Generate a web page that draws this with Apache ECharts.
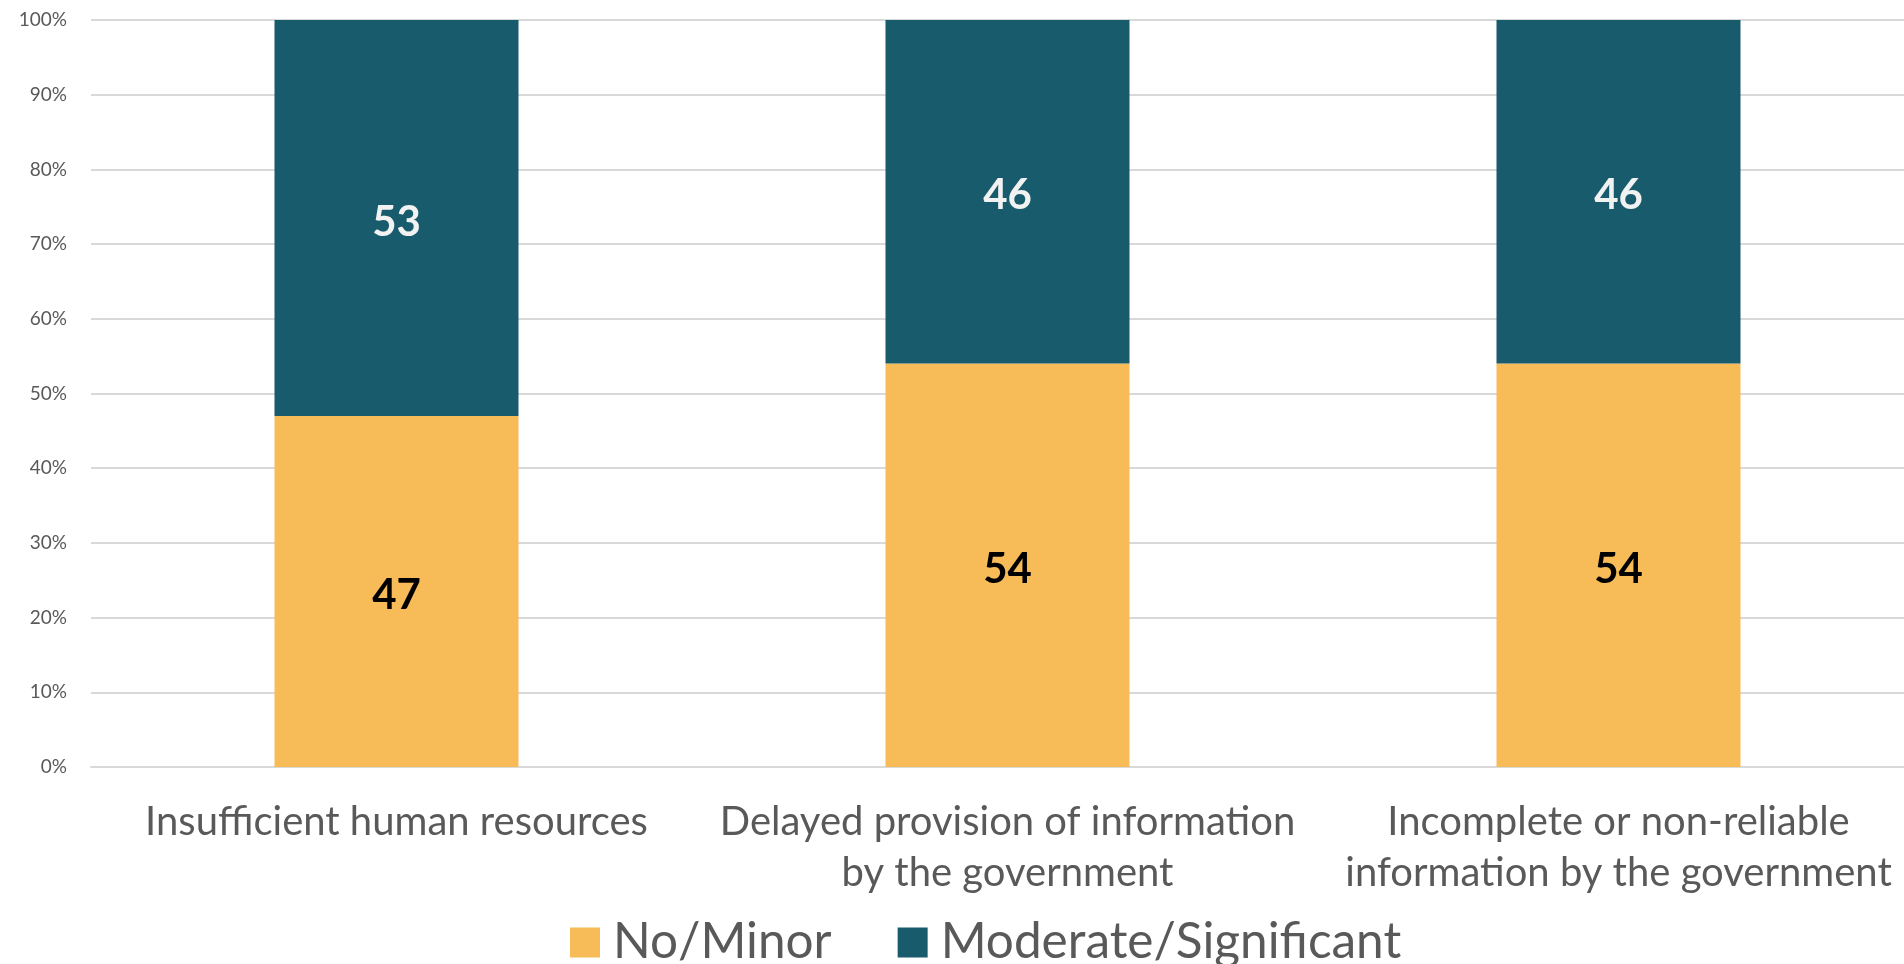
<!DOCTYPE html>
<html>
<head>
<meta charset="utf-8">
<script src="https://cdn.jsdelivr.net/npm/echarts@6/dist/echarts.min.js"></script>
<style>
  html, body { margin: 0; padding: 0; background: #fff; }
  #chart { width: 1904px; height: 964px; }
</style>
</head>
<body>
<div id="chart"></div>
<script>
const categories = [
  "Insufficient human resources",
  "Delayed provision of information\nby the government",
  "Incomplete or non-reliable\ninformation by the government"
];
const noMinor = [47, 54, 54];
const moderateSignificant = [53, 46, 46];
const yTicks = [0, 10, 20, 30, 40, 50, 60, 70, 80, 90, 100];

const chart = echarts.init(document.getElementById("chart"));
const font = "Lato, 'Open Sans', sans-serif";

const option = {
  animation: false,
  textStyle: { fontFamily: font },
  // plot area runs a little past the right edge, as in the original
  grid: {
    left: 91,
    top: 20,
    bottom: 197,
    width: 1833,
    containLabel: false,
    outerBoundsMode: "none",
  },
  legend: {
    data: ["No/Minor", "Moderate/Significant"],
    left: 565,
    top: 911,
    icon: "rect",
    itemWidth: 30,
    itemHeight: 30,
    itemGap: 66,
    textStyle: {
      fontFamily: font,
      fontSize: 49.5,
      color: "#595959",
      lineHeight: 53,
      padding: [0, 0, 0, 8],
    },
  },
  xAxis: {
    type: "category",
    data: categories,
    axisTick: { show: false },
    axisLine: { lineStyle: { color: "#d9d9d9", width: 2 } },
    axisLabel: {
      interval: 0,
      margin: 30,
      fontFamily: font,
      fontSize: 40,
      lineHeight: 51,
      color: "#595959",
    },
  },
  yAxis: {
    type: "value",
    min: yTicks[0],
    max: yTicks[yTicks.length - 1],
    interval: 10,
    axisLine: { show: false },
    axisTick: { show: false },
    splitLine: { lineStyle: { color: "#d9d9d9", width: 2 } },
    axisLabel: {
      margin: 24,
      fontFamily: font,
      fontSize: 19,
      color: "#595959",
      formatter: "{value}%",
    },
  },
  series: [
    {
      name: "No/Minor",
      type: "bar",
      stack: "total",
      barWidth: 244,
      data: noMinor,
      itemStyle: { color: "#F7BB58" },
      label: {
        show: true,
        position: "inside",
        offset: [0, 4],
        fontFamily: font,
        fontWeight: "bold",
        fontSize: 42,
        color: "#000000",
      },
    },
    {
      name: "Moderate/Significant",
      type: "bar",
      stack: "total",
      barWidth: 244,
      data: moderateSignificant,
      itemStyle: { color: "#185B6C" },
      label: {
        show: true,
        position: "inside",
        offset: [0, 4],
        fontFamily: font,
        fontWeight: "bold",
        fontSize: 42,
        color: "#f2f2f2",
      },
    },
  ],
};

chart.setOption(option);
window.addEventListener("resize", () => {
  chart.resize();
});
</script>
</body>
</html>
